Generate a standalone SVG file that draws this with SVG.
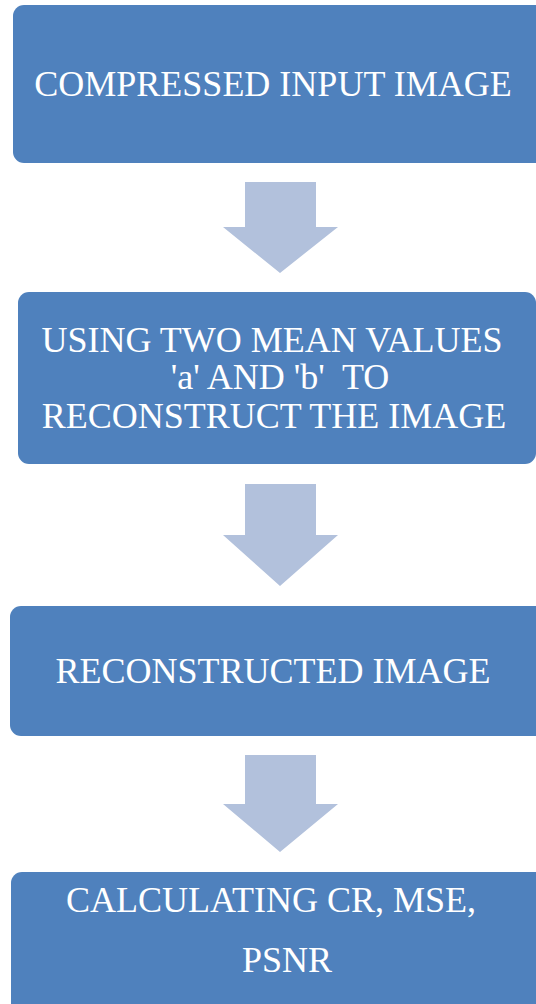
<svg xmlns="http://www.w3.org/2000/svg" width="536" height="1004" viewBox="0 0 536 1004">
  <style>
    .box { fill: #4F81BD; }
    .arrow { fill: #B2C1DC; }
  </style>
  <rect width="536" height="1004" fill="#FFFFFF"/>

  <!-- all labels: white, centred, 36px serif -->
  <g id="node-compressed-input">
    <rect class="box" x="13" y="5" width="540" height="158" rx="11"/>
    <text x="273" y="96" font-family="Liberation Serif" font-size="36" fill="#FFFFFF" text-anchor="middle">COMPRESSED INPUT IMAGE</text>
  </g>

  <g id="node-mean-values">
    <rect class="box" x="18" y="292" width="518" height="172" rx="11"/>
    <text x="272" y="352" font-family="Liberation Serif" font-size="36" fill="#FFFFFF" text-anchor="middle">USING TWO MEAN VALUES</text>
    <text x="280" y="389" font-family="Liberation Serif" font-size="36" fill="#FFFFFF" text-anchor="middle" xml:space="preserve">'a' AND 'b'  TO</text>
    <text x="274" y="428" font-family="Liberation Serif" font-size="36" fill="#FFFFFF" text-anchor="middle">RECONSTRUCT THE IMAGE</text>
  </g>

  <g id="node-reconstructed">
    <rect class="box" x="10" y="606" width="540" height="130" rx="11"/>
    <text x="273" y="683" font-family="Liberation Serif" font-size="36" fill="#FFFFFF" text-anchor="middle">RECONSTRUCTED IMAGE</text>
  </g>

  <g id="node-metrics">
    <rect class="box" x="11" y="872" width="540" height="150" rx="11"/>
    <text x="271" y="912" font-family="Liberation Serif" font-size="36" fill="#FFFFFF" text-anchor="middle">CALCULATING CR, MSE,</text>
    <text x="287" y="972" font-family="Liberation Serif" font-size="36" fill="#FFFFFF" text-anchor="middle">PSNR</text>
  </g>

  <g id="connectors">
    <polygon class="arrow" points="245,182 316,182 316,227 338,227 280,273 223,227 245,227"/>
    <polygon class="arrow" points="245,484 316,484 316,535 338,535 280,586 223,535 245,535"/>
    <polygon class="arrow" points="245,755 316,755 316,804 338,804 280,852 223,804 245,804"/>
  </g>
</svg>
